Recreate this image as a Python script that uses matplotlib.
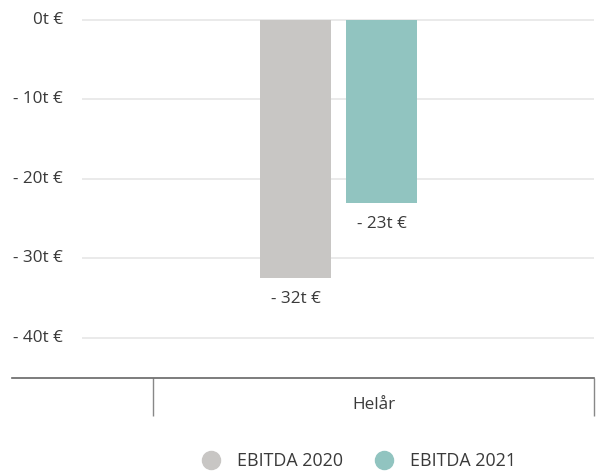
import numpy as np
import matplotlib.pyplot as plt

plt.rcParams['font.family'] = ['Open Sans', 'DejaVu Sans']

categories = ["Helår"]
series_names = ["EBITDA 2020", "EBITDA 2021"]
values_2020 = [-32.5]
values_2021 = [-23.1]
value_labels = [["- 32t €"], ["- 23t €"]]
y_ticks = [0, -10, -20, -30, -40]
y_tick_labels = ["0t €", "- 10t €", "- 20t €", "- 30t €", "- 40t €"]

colors = ["#c8c6c4", "#91c4c0"]
text_col = "#3a3a3a"
fs = 12.3
fs_leg = 12.9

W, H = 602, 474
fig = plt.figure(figsize=(W / 100, H / 100), dpi=100)
# axes: x 12..594 px, y 20..378 px
ax = fig.add_axes([12 / W, 1 - 378 / H, (594 - 12) / W, (378 - 20) / H])

band = 441.0
xmin = (12 - 373.5) / band
xmax = 0.5
ax.set_xlim(xmin, xmax)
ax.set_ylim(-45.1, 0)

x = np.arange(len(categories))
bar_w = 71 / band
offsets = [(295.5 - 373.5) / band, (381.5 - 373.5) / band]
series = [values_2020, values_2021]

grid_x0 = (82 - 373.5) / band
ax.hlines(y_ticks, grid_x0, xmax, color="#e6e6e6", lw=1.2, zorder=0, clip_on=False)
for yv, lab in zip(y_ticks, y_tick_labels):
    ax.text((63 - 373.5) / band, yv, lab, ha="right", va="center",
            fontsize=fs, color=text_col)

for i in range(len(series)):
    bars = ax.bar(x + offsets[i], series[i], width=bar_w, color=colors[i],
                  label=series_names[i], zorder=2)
    for b, lab in zip(bars, value_labels[i]):
        ax.annotate(lab, (b.get_x() + b.get_width() / 2, b.get_height()),
                    xytext=(0, -15), textcoords="offset points",
                    ha="center", va="center", fontsize=fs, color=text_col)

for s in ["top", "right", "left"]:
    ax.spines[s].set_visible(False)
ax.spines["bottom"].set_color("#666666")
ax.spines["bottom"].set_linewidth(1.2)
ax.set_yticks([])
ax.set_xticks([x[0] - 0.5, x[0] + 0.5], labels=["", ""])
ax.tick_params(axis="x", which="major", length=27.5, width=1.0, color="#888888")
ax.set_xticks(x, labels=categories, minor=True)
ax.tick_params(axis="x", which="minor", length=0, pad=14, labelsize=fs,
               labelcolor=text_col)

handles = [plt.Line2D([], [], marker="o", ls="", markersize=13,
                      markerfacecolor=c, markeredgecolor=c) for c in colors]
fig.legend(handles, series_names, loc="center", ncol=2,
           bbox_to_anchor=(359 / W, 1 - 461 / H), frameon=False,
           fontsize=fs_leg, labelcolor=text_col, handletextpad=0.95,
           columnspacing=1.79, handlelength=1.0)

fig.savefig("out.png", dpi=100)
